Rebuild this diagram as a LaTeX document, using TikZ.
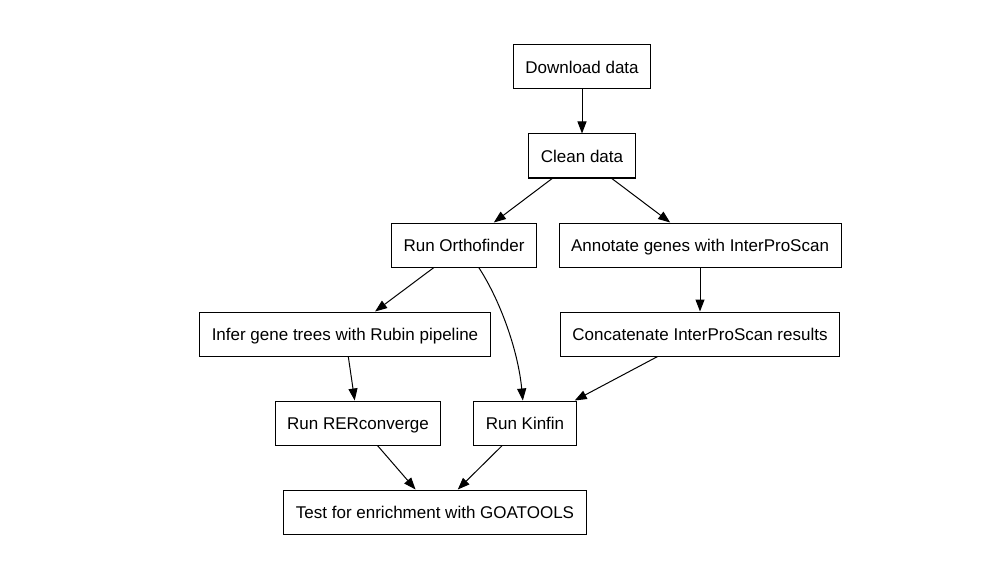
\documentclass[tikz,border=0pt]{standalone}
\usepackage{fontspec}
\setmainfont{Liberation Sans}
\usetikzlibrary{arrows.meta}
\begin{document}
\begin{tikzpicture}[x=1pt,y=-1pt,
  stepbox/.style={draw=black, line width=1pt, minimum height=44pt, inner xsep=12pt, inner ysep=0pt,
    text height=14pt, text depth=1.6pt,
    font=\fontsize{17}{20}\selectfont, anchor=center},
  conn/.style={line width=1pt, -{Triangle[length=12pt,width=9pt]}}]
\useasboundingbox (0,0) rectangle (1000,580);
\node[stepbox] (dl) at (582,67) {Download data};
\node[stepbox] (clean) at (582,156) {Clean data};
\node[stepbox] (orth) at (464,245) {Run Orthofinder};
\node[stepbox] (annot) at (700,245) {Annotate genes with InterProScan};
\node[stepbox] (infer) at (345,334) {Infer gene trees with Rubin pipeline};
\node[stepbox] (conc) at (700,334) {Concatenate InterProScan results};
\node[stepbox] (rer) at (358,423) {Run RERconverge};
\node[stepbox] (kin) at (525,423) {Run Kinfin};
\node[stepbox] (test) at (435,512) {Test for enrichment with GOATOOLS};
\draw[conn] (dl) -- (clean);
\draw[conn] (clean) -- (orth);
\draw[conn] (clean) -- (annot);
\draw[conn] (orth) -- (infer);
\draw[conn] (orth) .. controls (500,300) and (518,350) .. (kin);
\draw[conn] (annot) -- (conc);
\draw[conn] (infer) -- (rer);
\draw[conn] (conc) -- ([xshift=-2pt]kin.north east);
\draw[conn] (rer) -- (test);
\draw[conn] (kin) -- (test);
\end{tikzpicture}
\end{document}
